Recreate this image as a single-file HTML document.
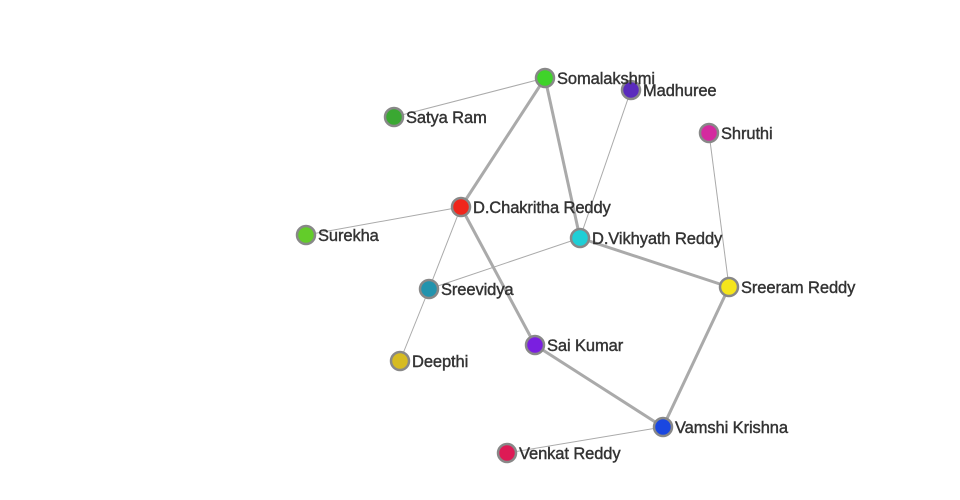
<!DOCTYPE html>
<html><head><style>body{margin:0;background:#fff}svg{display:block}text{font-family:"Liberation Sans",sans-serif;font-size:16.5px;fill:#333;stroke:#333;stroke-width:0.4px;letter-spacing:-0.1px}</style></head>
<body><svg width="960" height="500" viewBox="0 0 960 500">
<g stroke="#aaa" stroke-width="1">
<line x1="545" y1="78" x2="394" y2="117"/>
<line x1="631" y1="90" x2="580" y2="238"/>
<line x1="709" y1="133" x2="729" y2="287"/>
<line x1="461" y1="207" x2="306" y2="235"/>
<line x1="461" y1="207" x2="429" y2="289"/>
<line x1="580" y1="238" x2="429" y2="289"/>
<line x1="429" y1="289" x2="400" y2="361"/>
<line x1="663" y1="427" x2="507" y2="453"/>
</g>
<g stroke="#aaa" stroke-width="3">
<line x1="545" y1="78" x2="461" y2="207"/>
<line x1="545" y1="78" x2="580" y2="238"/>
<line x1="461" y1="207" x2="535" y2="345"/>
<line x1="580" y1="238" x2="729" y2="287"/>
<line x1="729" y1="287" x2="663" y2="427"/>
<line x1="535" y1="345" x2="663" y2="427"/>
</g>
<g stroke="#888" stroke-width="2.5">
<circle cx="545" cy="78" r="9" fill="#3fd32a"/>
<circle cx="631" cy="90" r="9" fill="#5a2bbd"/>
<circle cx="394" cy="117" r="9" fill="#3aa832"/>
<circle cx="709" cy="133" r="9" fill="#d42a9f"/>
<circle cx="461" cy="207" r="9" fill="#f0261c"/>
<circle cx="306" cy="235" r="9" fill="#63cc2a"/>
<circle cx="580" cy="238" r="9" fill="#1fcfd6"/>
<circle cx="429" cy="289" r="9" fill="#2393ad"/>
<circle cx="729" cy="287" r="9" fill="#f5e51c"/>
<circle cx="535" cy="345" r="9" fill="#7a1fe0"/>
<circle cx="400" cy="361" r="9" fill="#d6bb22"/>
<circle cx="663" cy="427" r="9" fill="#1a47e0"/>
<circle cx="507" cy="453" r="9" fill="#dd1a55"/>
</g>
<text x="557" y="84">Somalakshmi</text>
<text x="643" y="96">Madhuree</text>
<text x="406" y="123">Satya Ram</text>
<text x="721" y="139">Shruthi</text>
<text x="473" y="213">D.Chakritha Reddy</text>
<text x="318" y="241">Surekha</text>
<text x="592" y="244">D.Vikhyath Reddy</text>
<text x="441" y="295">Sreevidya</text>
<text x="741" y="293">Sreeram Reddy</text>
<text x="547" y="351">Sai Kumar</text>
<text x="412" y="367">Deepthi</text>
<text x="675" y="433">Vamshi Krishna</text>
<text x="519" y="459">Venkat Reddy</text>
</svg></body></html>
